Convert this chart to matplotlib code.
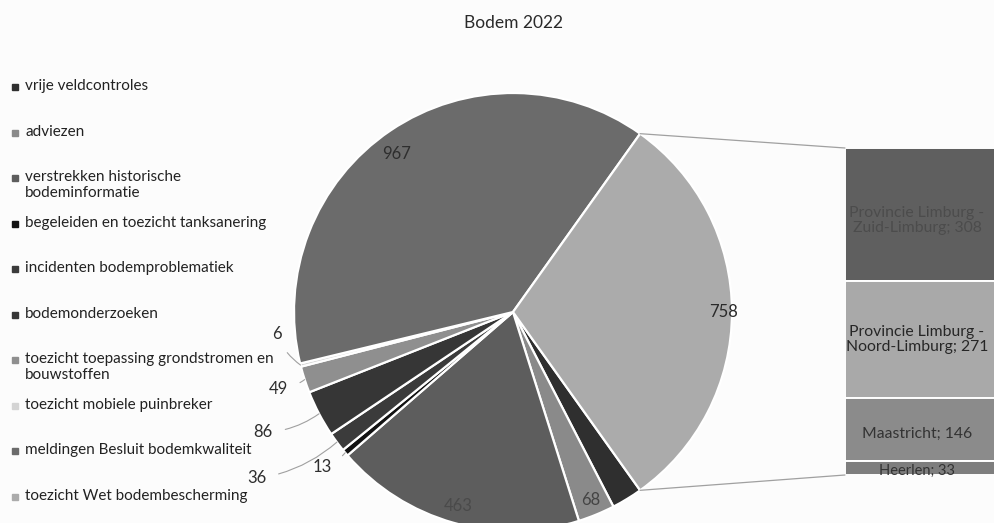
import numpy as np
import matplotlib
matplotlib.use("Agg")
import matplotlib.pyplot as plt
from matplotlib.patches import ConnectionPatch, Rectangle

plt.rcParams['font.family'] = ['Lato', 'DejaVu Sans']

# categories in pie order (clockwise, last one is split out in the bar)
categories = ["vrije veldcontroles", "adviezen",
              "verstrekken historische\nbodeminformatie",
              "begeleiden en toezicht tanksanering",
              "incidenten bodemproblematiek", "bodemonderzoeken",
              "toezicht toepassing grondstromen en\nbouwstoffen",
              "toezicht mobiele puinbreker",
              "meldingen Besluit bodemkwaliteit",
              "toezicht Wet bodembescherming"]
values = [57, 68, 463, 13, 36, 86, 49, 6, 967, 758]
colors = ["#2f2f2f", "#8a8a8a", "#5d5d5d", "#121212", "#3b3b3b",
          "#363636", "#8f8f8f", "#d4d4d4", "#6b6b6b", "#ababab"]

# breakdown of the last slice
bar_labels = ["Provincie Limburg -\nZuid-Limburg; 308",
              "Provincie Limburg -\nNoord-Limburg; 271",
              "Maastricht; 146", "Heerlen; 33"]
bar_values = [308, 271, 146, 33]
bar_colors = ["#5f5f5f", "#a9a9a9", "#8b8b8b", "#7e7e7e"]
bar_text_colors = ["#4c4c4c", "#262626", "#333333", "#333333"]

W, H = 994, 523
fig = plt.figure(figsize=(W / 100, H / 100), dpi=100)
fig.patch.set_facecolor("#fcfcfc")

fig.text(513 / W, 1 - 23 / H, "Bodem 2022", ha="center", va="center",
         fontsize=12.5, color="#2a2a2a")

# pie axes: centre (513, 312) px, radius 219 px
r_px = 219
ax = fig.add_axes([(513 - r_px) / W, (H - 312 - r_px) / H,
                   2 * r_px / W, 2 * r_px / H])
total = sum(values)
other_angle = values[-1] / total * 360
start = -other_angle / 2
wedges, _ = ax.pie(values, colors=colors, startangle=start, counterclock=False,
                   wedgeprops=dict(edgecolor="white", linewidth=1.6))
ax.set_xlim(-1, 1)
ax.set_ylim(-1, 1)
ax.set_aspect("equal")
ax.axis("off")

# labels inside the big slices (radius along the mid angle)
inside = {9: (0.96, "#2a2a2a"), 2: (0.92, "#4a4a4a"), 1: (0.93, "#444444")}
for i, (rr, tc) in inside.items():
    w = wedges[i]
    mid = np.deg2rad((w.theta1 + w.theta2) / 2)
    ax.text(rr * np.cos(mid), rr * np.sin(mid), str(values[i]),
            ha="center", va="center", fontsize=12, color=tc)
ax.text(-0.53, 0.72, str(values[8]), ha="center", va="center",
        fontsize=12, color="#2e2e2e")

outside_pos = {7: (-1.08, -0.10), 6: (-1.07, -0.35), 5: (-1.14, -0.55),
               4: (-1.17, -0.76), 3: (-0.87, -0.71)}
for i, (tx, ty) in outside_pos.items():
    w = wedges[i]
    mid = np.deg2rad((w.theta1 + w.theta2) / 2)
    ex, ey = np.cos(mid), np.sin(mid)
    ax.annotate(str(values[i]), xy=(ex, ey), xytext=(tx, ty),
                ha="center", va="center", fontsize=12, color="#2e2e2e",
                annotation_clip=False,
                arrowprops=dict(arrowstyle="-", color="#a0a0a0", lw=0.8,
                                shrinkA=7, shrinkB=0,
                                connectionstyle="arc3,rad=0.15"))

# bar of the split slice
bar_top, bar_bot = 148, 475
bax = fig.add_axes([845 / W, (H - bar_bot) / H, 160 / W, (bar_bot - bar_top) / H])
bottoms = sum(bar_values) - np.cumsum(bar_values)
bax.bar(0, bar_values, bottom=bottoms, width=1, color=bar_colors,
        edgecolor="white", linewidth=1.4)
bax.set_xlim(-0.5, 0.5)
bax.set_ylim(0, sum(bar_values))
bax.axis("off")
for i, (lab, v, b) in enumerate(zip(bar_labels, bar_values, bottoms)):
    yy = b + v / 2 if i < 3 else b + v / 2 - 6
    if i == 0:
        yy -= 14
    elif i == 2:
        yy -= 10
    bax.text(-0.05, yy, lab, ha="center", va="center",
             fontsize=11.3 if i < 3 else 10.5, color=bar_text_colors[i],
             linespacing=1.15, clip_on=False)

# connector lines from the split slice to the bar
t1 = np.deg2rad(start + other_angle)
t2 = np.deg2rad(start)
for (px, py), (bx, by) in [((np.cos(t1), np.sin(t1)), (-0.5, sum(bar_values))),
                           ((np.cos(t2), np.sin(t2)), (-0.5, 0))]:
    con = ConnectionPatch(xyA=(px, py), coordsA=ax.transData,
                          xyB=(bx, by), coordsB=bax.transData,
                          color="#a0a0a0", lw=0.9)
    fig.add_artist(con)

# legend
leg_y = np.linspace(87, 497, len(categories))
for lab, col, y in zip(categories, colors, leg_y):
    fig.patches.append(Rectangle((12 / W, 1 - (y + 3) / H), 6 / W, 6 / H,
                                 transform=fig.transFigure, color=col,
                                 figure=fig))
    fig.text(25 / W, 1 - (y - 8) / H, lab, ha="left", va="top",
             fontsize=11, color="#222222", linespacing=1.15)

fig.savefig("out.png", dpi=100, facecolor=fig.get_facecolor())
